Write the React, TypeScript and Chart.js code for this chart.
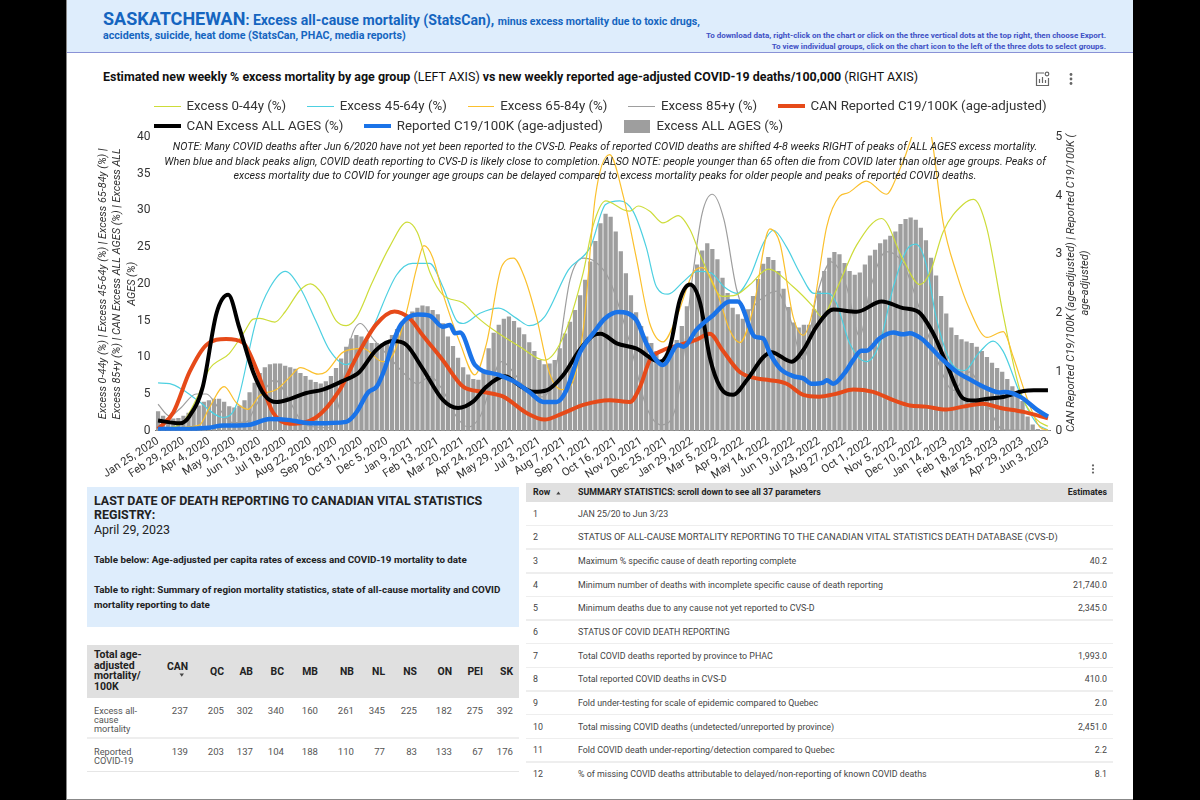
import React, { useEffect, useRef } from "react";
import { Chart, registerables } from "chart.js";

Chart.register(...registerables);

const FONT = "Roboto, sans-serif";

const tickLabels = [
  "Jan 25, 2020","Feb 29, 2020","Apr 4, 2020","May 9, 2020","Jun 13, 2020","Jul 18, 2020","Aug 22, 2020","Sep 26, 2020","Oct 31, 2020","Dec 5, 2020",
  "Jan 9, 2021","Feb 13, 2021","Mar 20, 2021","Apr 24, 2021","May 29, 2021","Jul 3, 2021","Aug 7, 2021","Sep 11, 2021","Oct 16, 2021","Nov 20, 2021","Dec 25, 2021",
  "Jan 29, 2022","Mar 5, 2022","Apr 9, 2022","May 14, 2022","Jun 19, 2022","Jul 23, 2022","Aug 27, 2022","Oct 1, 2022","Nov 5, 2022","Dec 10, 2022",
  "Jan 14, 2023","Feb 18, 2023","Mar 25, 2023","Apr 29, 2023","Jun 3, 2023",
];

// Weekly bars, left axis (%), week 0 = Jan 25, 2020
const excessAllAges = [
  2.6,2.0,1.7,1.6,1.7,2.0,2.4,3.0,3.4,3.9,
  4.1,4.3,4.3,3.9,3.3,3.1,3.4,4.1,5.2,6.5,
  7.8,8.6,9.0,9.1,9.1,8.8,8.6,8.4,7.8,7.4,
  6.9,6.6,6.4,6.7,7.4,8.5,9.8,11.4,12.5,13.0,
  12.8,12.3,11.9,11.9,11.8,12.2,13.0,13.8,14.8,15.5,
  16.2,16.7,17.0,16.9,16.4,15.8,14.6,12.8,11.5,9.9,
  8.6,7.6,7.0,6.9,7.8,11.2,13.3,14.4,15.2,15.5,
  14.9,14.0,13.1,12.0,10.8,9.6,9.0,9.1,9.6,11.2,
  13.2,14.8,16.4,18.4,20.5,23.0,25.8,28.2,29.5,29.1,
  27.1,24.4,21.4,18.4,16.1,14.2,12.8,11.9,10.8,9.6,
  10.0,11.2,12.3,14.2,16.9,19.6,22.6,24.5,25.5,24.7,
  23.3,20.8,18.7,16.7,15.8,15.2,16.5,18.3,20.6,22.7,
  23.6,23.2,21.7,19.3,16.8,14.7,14.0,14.4,14.4,16.5,
  19.0,21.7,23.5,24.3,24.0,22.8,21.7,21.2,21.5,22.6,
  23.8,24.6,25.5,26.0,26.5,27.1,28.1,28.8,29.0,28.7,
  27.6,25.9,23.5,21.1,18.3,15.9,14.0,13.0,12.4,12.1,
  11.9,11.4,10.8,10.0,9.2,8.5,8.0,7.0,6.0,5.1,
  4.0,1.9,0.8,0.2,0.1,0.05,
];

// Lines as [week, value] pairs
const excess0to44 = [
  [0,0.3],[4.3,0.8],[8,5],[10,8.3],[14,10.5],[17,13.5],[18.7,15.2],[20,15.3],[23,14.8],[25,16.2],[28,19.2],[30,20],[32.4,18.5],[35,15],[37,14.3],[39,15.4],[42,20],[45.5,25],[49,28.4],[51,27],[53.5,21.5],[56,18.5],[60,17.4],[62.7,15.5],[66,13.7],[71,11.5],[76,9.6],[79.7,12.8],[83.6,21.5],[85.5,27.8],[88,31.3],[91.5,30.1],[92.8,29.9],[94.4,30.6],[96.7,29.9],[99.3,28.3],[102.3,29.3],[104.6,27.4],[107,23.3],[111,18.3],[113.7,18.5],[116.4,19.9],[120,22],[124.9,19.6],[128.8,16.9],[130.5,15.5],[133.4,19.2],[137.4,25.3],[142.3,28.9],[146.5,23.3],[149.8,19.9],[151.8,21.5],[154.4,27.1],[158.3,30.8],[160.4,31.5],[162.9,27.8],[166.2,15.8],[169.5,5.5],[172.8,1.5],[175,0.6],
];
const excess45to64 = [
  [0,6.5],[2.3,6.4],[5,5.5],[8,4],[12.8,1.8],[15.4,3.5],[19.3,15],[22,19.5],[25,21.7],[27.9,19.5],[31,15],[33.7,11],[37,9],[39.6,10.5],[41.6,13],[46.9,21.2],[50,22.8],[53.4,22.8],[56,19.6],[58.7,15],[60,14.6],[63.3,16],[67,16.7],[70.5,15.3],[73,14.3],[76,15.5],[80.7,21.9],[85,25],[88,30.8],[90.8,31.3],[93.4,29.9],[96,25],[98,19.6],[100.3,18.6],[103.3,20.3],[106,21.7],[108.7,21.5],[111.3,19.6],[113.8,18.7],[116.4,21],[119,25.5],[121,27.3],[123.6,25],[126.2,21.5],[129,18.7],[131.8,18.7],[133.4,17.4],[136,11.9],[139.3,9.4],[141.9,11.9],[144.6,19.6],[147.2,24.6],[149,25.4],[151,22.8],[153,15.5],[155.7,9.6],[158.6,8.2],[161.3,10.5],[164.2,12.2],[166.2,10.8],[169.5,5.1],[172.8,1],[175,0.1],
];
const excess65to84 = [
  [0,0.5],[2.3,0.3],[5.5,0.5],[8.2,0.8],[10,3],[13,6],[15.4,3.8],[17.7,2.9],[20,4.8],[23.3,5.6],[25.9,7.3],[28,8.6],[31.5,7.7],[33,8],[36.4,10.7],[40.3,11.2],[44.2,9.4],[46.2,10.3],[48.8,16],[50.8,22],[52.3,25.2],[54,23.6],[56,18.7],[59.4,11.9],[62.3,7.6],[64.6,11.9],[67.6,22.4],[69.9,23.5],[72,21],[74.4,15.5],[77,7.8],[79.4,5.6],[81,6],[83.6,13.7],[86,31.9],[88.8,37.6],[91.5,31.9],[94,23.7],[96.7,14.6],[99.3,12.1],[102,15.5],[105.2,21.5],[107,22.2],[110,18.7],[112.4,13.7],[114.4,12],[117,16.5],[120.3,27.5],[122.3,25.5],[124.9,15.5],[126.9,13],[128.8,16.5],[131.5,27.8],[134,31.9],[135.7,32.4],[139.3,34],[143.2,32.2],[145.5,35],[148.2,40],[150,45],[152.1,40],[154.4,28.3],[157,21.5],[159.6,16.5],[163,12.7],[166.2,13.5],[168.2,10],[170.8,4.6],[173.4,0.5],[175,0.1],
];
const excess85plus = [
  [0,3.6],[2.3,2],[4.3,3],[7.5,5],[9.5,5],[12,3],[14.7,1.1],[17.4,1.2],[19.3,3.5],[23,6.9],[25.9,4],[28.5,1],[31,0.5],[33.7,0.4],[35.7,4],[37.7,12],[39.8,14.6],[42.3,12.5],[45.5,10],[48.8,7.5],[51,6.4],[53.5,7.4],[56,5.5],[58.7,1.9],[61,0.5],[63.3,1.9],[67.6,9.4],[70.5,7.4],[73,5],[75.8,4.6],[78.4,9.2],[81,20.5],[83.6,23.5],[86,23],[88.8,20.5],[92.8,11.9],[96,3.3],[99,0.8],[102,3.7],[105.2,21.5],[107,29.6],[109,32.2],[111.3,28.7],[113.8,19.2],[115.8,16.2],[118.3,17.8],[121.6,19],[124.2,15.5],[126.9,9.6],[129.5,18.3],[132.4,23],[135.4,19.6],[138,12.8],[140,19.2],[143.2,24.4],[146.5,22.8],[149.8,16.5],[153,10],[156.4,5.5],[159.6,8],[163,3.7],[166.2,0.1],[175,0],
];
const canExcessAllAges = [
  [0,1.4],[4.3,1],[6.2,2],[8.8,6],[11.5,16],[13.8,18.5],[16,14],[18.7,8],[21,4.8],[23.3,3.9],[25.9,4.3],[29,5.1],[32.4,5.6],[36.4,6.8],[39.6,8],[42.9,11],[46.2,12.2],[48.8,11.7],[52,8.5],[56,4.2],[59,3.1],[62,4],[64.6,6],[68.2,7.4],[71,6.2],[73.8,5.3],[76.4,5.5],[79.7,7.6],[82.9,11],[85.6,13],[87,13.2],[90.2,11.9],[94,11.2],[98.7,9.4],[100.7,11.5],[102.6,17.8],[104.6,19.9],[106.6,17.4],[108.5,10],[110.5,6],[113.1,4.9],[115.8,6.9],[119,10],[120.6,10.7],[124.6,9.4],[126.9,11],[129.5,14.2],[132.8,16.5],[137.4,16.2],[142.3,17.6],[146.5,16.7],[149.5,16.2],[152.4,13.3],[155,9.2],[158.3,4.4],[160.4,4.1],[163.7,4.4],[166.2,4.6],[170.2,5.4],[172.2,5.5],[175,5.5],
];
const canReportedC19 = [
  [0,0.03],[3,0.31],[6.2,1],[9.5,1.46],[13.4,1.56],[16.7,1.5],[19.3,1.06],[22.6,0.31],[25.9,0.12],[31,0.22],[35.7,0.69],[39,1.25],[42.9,1.81],[46.5,2.03],[49.5,1.91],[52,1.63],[56,1.2],[60,0.75],[64,0.66],[67.9,0.58],[72.5,0.3],[76,0.19],[79.7,0.3],[83.6,0.44],[88.8,0.52],[92.8,0.49],[94.8,0.75],[96.7,1.2],[99.3,1.37],[102.6,1.46],[105.9,1.55],[108.5,1.65],[111,1.37],[114.4,1],[117.7,0.89],[120.3,0.86],[123.6,0.8],[126.9,0.61],[130,0.58],[133.4,0.63],[136.7,0.7],[140.6,0.66],[144.6,0.52],[147.8,0.43],[151,0.41],[155,0.36],[158.3,0.41],[162.2,0.46],[165.5,0.39],[170.2,0.32],[175,0.21],
];
const reportedC19 = [
  [0,0.03],[6,0.03],[10,0.05],[12.8,0.09],[15.4,0.09],[18,0.1],[22,0.2],[25.9,0.18],[28.5,0.14],[31,0.125],[37,0.15],[39,0.31],[41.3,0.65],[43,0.75],[44.6,1.06],[46.2,1.5],[47.8,1.81],[51,1.98],[53.4,1.96],[56,1.77],[57.4,1.8],[58.4,1.66],[59.4,1.67],[62.3,1.12],[67,0.95],[70,0.84],[73,0.66],[75.8,0.49],[78.4,0.49],[80.3,0.69],[82.9,1.32],[85.6,1.66],[87.9,1.91],[90.5,2.02],[94,1.89],[96,1.49],[98,1.2],[99.3,1.12],[102.3,1.46],[103.3,1.43],[105.9,1.72],[109.2,1.97],[112.4,2.2],[114,2.2],[117.4,1.6],[119,1.57],[120.3,1.32],[122.3,1.06],[124.9,0.93],[126.9,0.89],[128.5,0.8],[130.8,0.82],[131.5,0.86],[132.8,0.8],[135,0.98],[136.7,1.2],[138.3,1.36],[139.3,1.36],[141.9,1.57],[144.6,1.67],[146.5,1.64],[147.8,1.66],[150.1,1.57],[151.8,1.43],[153.8,1.25],[157.1,1],[159.7,0.87],[163,0.72],[165.5,0.65],[166.5,0.66],[169.5,0.58],[172.8,0.36],[175,0.24],
];

const seriesNames = [
  "Excess 0-44y (%)","Excess 45-64y (%)","Excess 65-84y (%)","Excess 85+y (%)",
  "CAN Reported C19/100K (age-adjusted)","CAN Excess ALL AGES (%)","Reported C19/100K (age-adjusted)","Excess ALL AGES (%)",
];
const seriesColors = ["#cddc39","#4dd0e1","#fbc02d","#9e9e9e","#e64a19","#000000","#1a73e8","#9e9e9e"];

const yTitleLeft = [
  "Excess 0-44y (%) | Excess 45-64y (%) | Excess 65-84y (%) |",
  "Excess 85+y (%) | CAN Excess ALL AGES (%) | Excess ALL",
  "AGES (%)",
];
const yTitleRight = ["CAN Reported C19/100K (age-adjusted) | Reported C19/100K (", "age-adjusted)"];

const noteLines = [
  "NOTE: Many COVID deaths after Jun 6/2020 have not yet been reported to the CVS-D. Peaks of reported COVID deaths are shifted 4-8 weeks RIGHT of peaks of ALL AGES excess mortality.",
  "When blue and black peaks align, COVID death reporting to CVS-D is likely close to completion. ALSO NOTE: people younger than 65 often die from COVID later than older age groups. Peaks of",
  "excess mortality due to COVID for younger age groups can be delayed compared to excess mortality peaks for older people and peaks of reported COVID deaths.",
];

const provinces = ["CAN","QC","AB","BC","MB","NB","NL","NS","ON","PEI","SK"];
const excessByProvince = [237,205,302,340,160,261,345,225,182,275,392];
const reportedByProvince = [139,203,137,104,188,110,77,83,133,67,176];
const provinceColWidths = [41,36,29,31,34,36,31,32,35,31,30];

const summaryLabels = [
  "JAN 25/20 to Jun 3/23",
  "STATUS OF ALL-CAUSE MORTALITY REPORTING TO THE CANADIAN VITAL STATISTICS DEATH DATABASE (CVS-D)",
  "Maximum % specific cause of death reporting complete",
  "Minimum number of deaths with incomplete specific cause of death reporting",
  "Minimum deaths due to any cause not yet reported to CVS-D",
  "STATUS OF COVID DEATH REPORTING",
  "Total COVID deaths reported by province to PHAC",
  "Total reported COVID deaths in CVS-D",
  "Fold under-testing for scale of epidemic compared to Quebec",
  "Total missing COVID deaths (undetected/unreported by province)",
  "Fold COVID death under-reporting/detection compared to Quebec",
  "% of missing COVID deaths attributable to delayed/non-reporting of known COVID deaths",
];
const summaryEstimates = ["","","40.2","21,740.0","2,345.0","","1,993.0","410.0","2.0","2,451.0","2.2","8.1"];

const toPoints = (pairs: number[][]) => pairs.map(([x, y]) => ({ x, y }));

const abs = (left: number, top: number, extra: React.CSSProperties = {}): React.CSSProperties => ({
  position: "absolute", left, top, ...extra,
});

function Dots({ x, y, r = 1.4, gap = 4.5, color = "#666" }: any) {
  return (
    <svg style={abs(x - 4, y - 10)} width={8} height={20}>
      {[-1, 0, 1].map((k) => <circle key={k} cx={4} cy={10 + k * gap} r={r} fill={color} />)}
    </svg>
  );
}

export default function App() {
  const ref = useRef<HTMLCanvasElement>(null);
  useEffect(() => {
    const line = (i: number, pairs: number[][], width: number, yAxisID: string, order: number) => ({
      type: "line" as const, label: seriesNames[i], data: toPoints(pairs), borderColor: seriesColors[i],
      backgroundColor: seriesColors[i], borderWidth: width, pointRadius: 0, cubicInterpolationMode: "monotone" as const,
      yAxisID, order,
    });
    const chart = new Chart(ref.current as HTMLCanvasElement, {
      type: "bar",
      data: {
        datasets: [
          line(0, excess0to44, 1.2, "y", 5),
          line(1, excess45to64, 1.2, "y", 6),
          line(2, excess65to84, 1.2, "y", 4),
          line(3, excess85plus, 1.2, "y", 7),
          line(4, canReportedC19, 4, "y1", 3),
          line(5, canExcessAllAges, 4, "y", 2),
          line(6, reportedC19, 4.5, "y1", 1),
          { type: "bar" as const, label: seriesNames[7], data: excessAllAges.map((y, x) => ({ x, y })),
            backgroundColor: seriesColors[7], barThickness: 3.6, yAxisID: "y", order: 10 },
        ] as any,
      },
      options: {
        animation: false, responsive: false, devicePixelRatio: 1,
        layout: { padding: { left: 29, top: 47, right: 0, bottom: 0 } },
        plugins: { legend: { display: false }, tooltip: { enabled: false } },
        scales: {
          x: {
            type: "linear", min: -0.5, max: 175.5, offset: false,
            grid: { display: false, drawTicks: false }, border: { display: true, color: "#777", width: 1 },
            afterBuildTicks: (s: any) => { s.ticks = tickLabels.map((_, i) => ({ value: i * 5 })); },
            afterFit: (s: any) => { s.height = 54.3; s.paddingLeft = 0; s.paddingRight = 0; },
            ticks: {
              autoSkip: false, minRotation: 33, maxRotation: 33, padding: 4, color: "#333",
              font: { family: FONT, size: 11.2 }, callback: (v: any) => tickLabels[Number(v) / 5],
            },
          },
          y: {
            position: "left", min: 0, max: 40,
            grid: { display: false, drawTicks: false }, border: { display: false },
            afterFit: (s: any) => { s.width = 59.5; },
            ticks: { stepSize: 5, padding: 5, color: "#333", font: { family: FONT, size: 12 } },
            title: { display: true, text: yTitleLeft, color: "#333", padding: 0,
              font: { family: FONT, size: 10.9, style: "italic", lineHeight: 1.33, weight: "normal" } },
          },
          y1: {
            position: "right", min: 0, max: 5,
            grid: { display: false, drawTicks: false }, border: { display: false },
            afterFit: (s: any) => { s.width = 82.5; },
            ticks: { stepSize: 1, padding: 5, color: "#333", font: { family: FONT, size: 12 } },
          },
        },
      } as any,
    });
    return () => chart.destroy();
  }, []);

  const hdr: React.CSSProperties = { background: "#e0e0e0", fontWeight: 700, color: "#222" };
  return (
    <div style={{ position: "absolute", left: 0, top: 0, width: 1200, height: 800, background: "#000", overflow: "hidden", fontFamily: FONT }}>
      <div style={abs(66, 0, { width: 1067, height: 800, background: "#fff", borderLeft: "1px solid #888", boxSizing: "border-box", borderBottom: "1px solid #888" })} />
      {/* header */}
      <div style={abs(67, 0, { width: 1066, height: 53, background: "#deedfc", borderBottom: "1px solid #8a92d6", boxSizing: "border-box" })} />
      <div style={abs(103, 6.5, { color: "#1565c0", fontWeight: 700, whiteSpace: "nowrap", fontSize: 10.65, lineHeight: "24px" })}>
        <span style={{ fontSize: 18 }}>SASKATCHEWAN</span><span style={{ fontSize: 14.1 }}>: Excess all-cause mortality (StatsCan), </span>minus excess mortality due to toxic drugs,
      </div>
      <div style={abs(103, 28, { color: "#1565c0", fontWeight: 700, whiteSpace: "nowrap", fontSize: 10.7, lineHeight: "16px" })}>
        accidents, suicide, heat dome (StatsCan, PHAC, media reports)
      </div>
      <div style={abs(600, 29.5, { width: 506, textAlign: "right", color: "#3f51c5", fontWeight: 700, fontSize: 8, lineHeight: "11px" })}>
        To download data, right-click on the chart or click on the three vertical dots at the top right, then choose Export.<br />
        To view individual groups, click on the chart icon to the left of the three dots to select groups.
      </div>
      <div style={abs(103, 69, { color: "#111", fontSize: 12.45, lineHeight: "16px", whiteSpace: "nowrap" })}>
        <b>Estimated new weekly % excess mortality by age group</b> (LEFT AXIS) <b>vs new weekly reported age-adjusted COVID-19 deaths/100,000</b> (RIGHT AXIS)
      </div>
      <svg style={abs(1035, 71)} width={15} height={16} viewBox="0 0 15 16" fill="none" stroke="#666" strokeWidth="1.2">
        <path d="M9 2H1.5V14.5H13.5V7" />
        <path d="M4.5 12V8M7.5 12V6M10.5 12V9" />
        <circle cx="12" cy="3" r="1.8" />
      </svg>
      <Dots x={1071} y={79} />
      <Dots x={1093} y={469} r={1.1} gap={3.6} />

      {/* chart */}
      <canvas ref={ref} width={1066} height={395} style={abs(67, 90, { width: 1066, height: 395 })} />

      {/* legend */}
      <div style={abs(154, 96, { width: 950, display: "flex", flexWrap: "wrap", columnGap: 21, fontSize: 13.3, color: "#333", lineHeight: "20px" })}>
        {seriesNames.map((n, i) => (
          <div key={n} style={{ display: "flex", alignItems: "center", height: 20, whiteSpace: "nowrap" }}>
            <span style={{ display: "inline-block", width: 26.5, marginRight: 6, height: i === 7 ? 13 : i >= 4 ? 4 : 1, background: seriesColors[i] }} />
            {n}
          </div>
        ))}
      </div>

      {/* note */}
      {noteLines.map((t, i) => (
        <div key={i} style={abs(157.5, 140 + i * 14.7, { width: 895, textAlign: "center", whiteSpace: "nowrap", fontStyle: "italic", fontSize: 10.74, lineHeight: "14px", color: "#222" })}>{t}</div>
      ))}

      {/* right axis title */}
      <div style={abs(928, 269, { width: 300, height: 28, transform: "rotate(-90deg)", textAlign: "center", whiteSpace: "nowrap", fontStyle: "italic", fontSize: 11, lineHeight: "14px", color: "#333" })}>
        {yTitleRight[0]}<br />{yTitleRight[1]}
      </div>

      {/* info box */}
      <div style={abs(87, 487, { width: 432, height: 140, background: "#deedfc" })} />
      <div style={abs(94, 493.5, { width: 420, fontSize: 12.45, fontWeight: 700, color: "#222", lineHeight: "14.7px" })}>
        LAST DATE OF DEATH REPORTING TO CANADIAN VITAL STATISTICS REGISTRY:<br /><span style={{ fontWeight: 400 }}>April 29, 2023</span>
      </div>
      <div style={abs(94, 553, { width: 420, fontSize: 9.8, fontWeight: 700, color: "#222", lineHeight: "14.5px" })}>
        Table below: Age-adjusted per capita rates of excess and COVID-19 mortality to date
      </div>
      <div style={abs(94, 583, { width: 420, fontSize: 9.8, fontWeight: 700, color: "#222", lineHeight: "14.5px" })}>
        Table to right: Summary of region mortality statistics, state of all-cause mortality and COVID mortality reporting to date
      </div>

      {/* province table */}
      <div style={abs(87, 645, { width: 432, height: 53, ...hdr })} />
      <div style={abs(94, 650, { fontSize: 10.5, fontWeight: 700, color: "#222", lineHeight: "10.6px" })}>Total age-<br />adjusted<br />mortality/<br />100K</div>
      {provinces.map((p, i) => {
        const right = 153 + provinceColWidths.slice(0, i + 1).reduce((a, b) => a + b, 0) - 6;
        return (
          <React.Fragment key={p}>
            <div style={abs(right - 40, i === 0 ? 660 : 665, { width: 40, textAlign: "right", fontSize: 10.4, fontWeight: 700, color: "#222", lineHeight: "13px" })}>{p}</div>
            <div style={abs(right - 40, 703.5, { width: 40, textAlign: "right", fontSize: 9.6, color: "#555", lineHeight: "13px" })}>{excessByProvince[i]}</div>
            <div style={abs(right - 40, 745, { width: 40, textAlign: "right", fontSize: 9.6, color: "#555", lineHeight: "13px" })}>{reportedByProvince[i]}</div>
          </React.Fragment>
        );
      })}
      <svg style={abs(179, 673)} width={6} height={5}><path d="M0.5 0.5H5L2.75 3.8Z" fill="#444" /></svg>
      <div style={abs(94, 705.5, { fontSize: 9.2, color: "#555", lineHeight: "9px" })}>Excess all-<br />cause<br />mortality</div>
      <div style={abs(87, 737, { width: 432, height: 2, background: "#eee" })} />
      <div style={abs(94, 746.5, { fontSize: 9.2, color: "#555", lineHeight: "9px" })}>Reported<br />COVID-19</div>
      <div style={abs(87, 770.5, { width: 432, height: 1, background: "#e6e6e6" })} />

      {/* summary table */}
      <div style={abs(526, 483, { width: 587, height: 19, ...hdr })} />
      <div style={abs(533, 486, { fontSize: 8.85, fontWeight: 700, color: "#222", lineHeight: "13px" })}>Row</div>
      <svg style={abs(556, 491)} width={5} height={4}><path d="M0.3 3.5H4.5L2.4 0.5Z" fill="#444" /></svg>
      <div style={abs(578, 486, { fontSize: 8.85, fontWeight: 700, color: "#222", lineHeight: "13px" })}>SUMMARY STATISTICS: scroll down to see all 37 parameters</div>
      <div style={abs(1007, 486, { width: 100, textAlign: "right", fontSize: 8.75, fontWeight: 700, color: "#222", lineHeight: "13px" })}>Estimates</div>
      {summaryLabels.map((t, i) => {
        const cy = 513.7 + i * 23.65;
        return (
          <React.Fragment key={i}>
            <div style={abs(533, cy - 7, { fontSize: 8.85, color: "#444", lineHeight: "14px" })}>{i + 1}</div>
            <div style={abs(578, cy - 7, { fontSize: i === 1 ? 9.4 : 8.85, color: "#444", lineHeight: "14px", whiteSpace: "nowrap" })}>{t}</div>
            <div style={abs(1007, cy - 7, { width: 100, textAlign: "right", fontSize: 8.85, color: "#444", lineHeight: "14px" })}>{summaryEstimates[i]}</div>
            {i < 11 && <div style={abs(526, cy + 11, { width: 587, height: 1.5, background: "#eee" })} />}
          </React.Fragment>
        );
      })}
    </div>
  );
}
